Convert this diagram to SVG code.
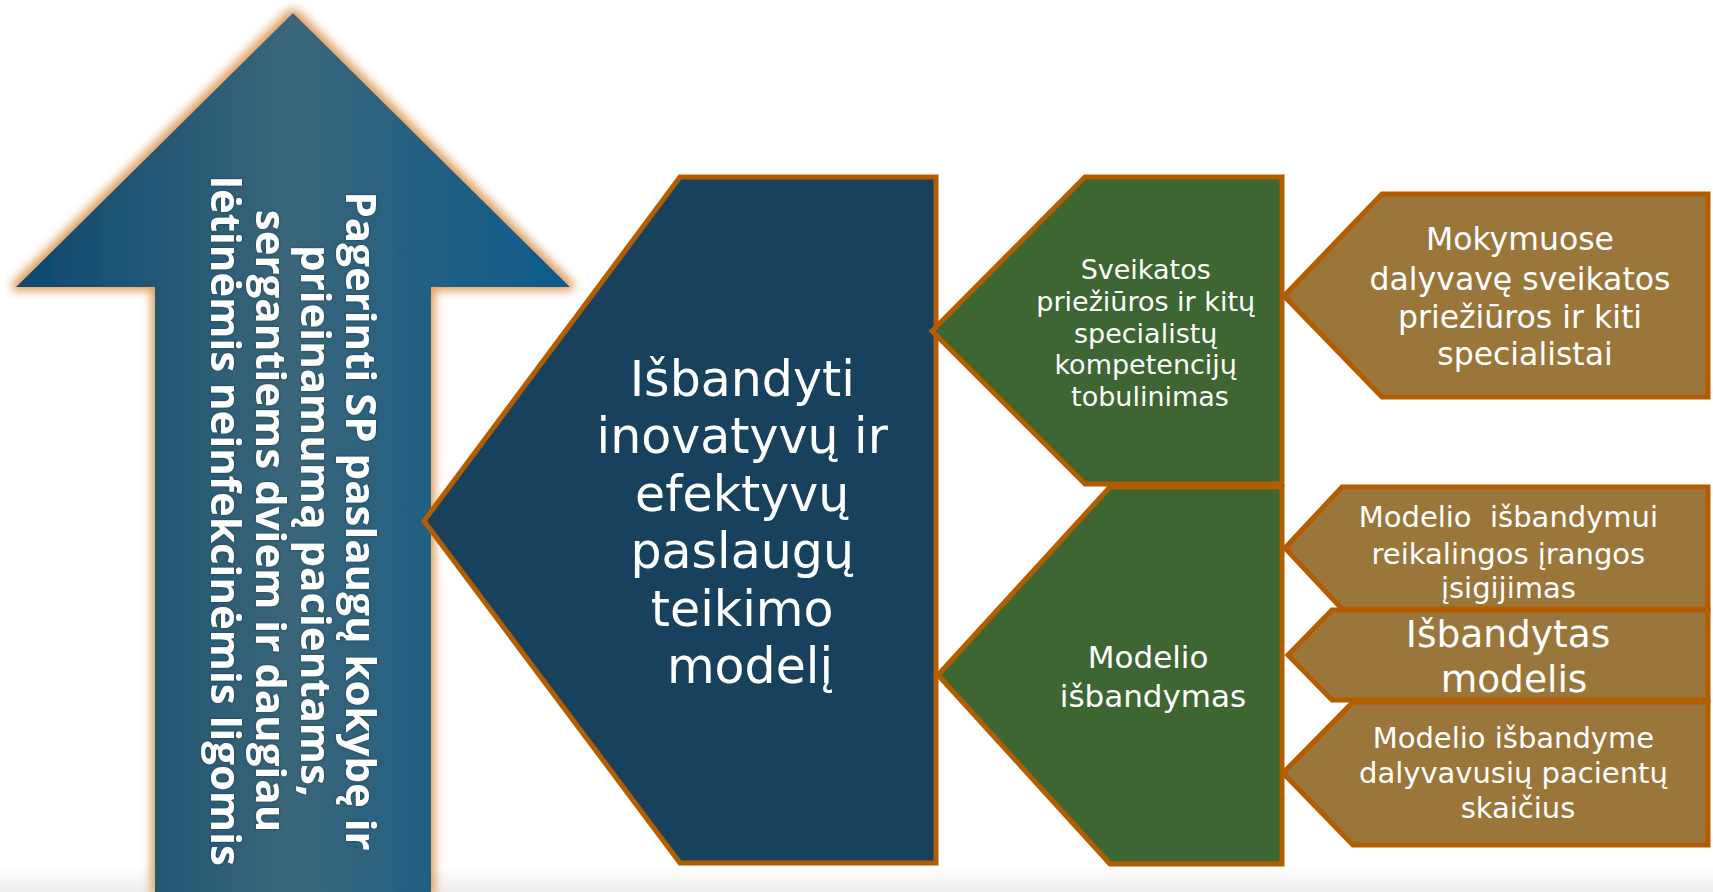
<svg xmlns="http://www.w3.org/2000/svg" width="1713" height="892" viewBox="0 0 1713 892">
<defs>
<linearGradient id="arrowGrad" x1="16" y1="0" x2="570" y2="0" gradientUnits="userSpaceOnUse">
<stop offset="0" stop-color="#0b4870"/>
<stop offset="0.5" stop-color="#3a6679"/>
<stop offset="1" stop-color="#0b5a8c"/>
</linearGradient>
<linearGradient id="bottomGrad" x1="0" y1="0" x2="0" y2="1">
<stop offset="0" stop-color="#ffffff"/>
<stop offset="1" stop-color="#eeeeee"/>
</linearGradient>
<filter id="glow" x="-10%" y="-10%" width="120%" height="120%">
<feMorphology in="SourceAlpha" operator="dilate" radius="4" result="d"/>
<feGaussianBlur in="d" stdDeviation="5" result="b"/>
<feFlood flood-color="#df9f5f"/>
<feComposite in2="b" operator="in" result="g"/>
<feMerge><feMergeNode in="g"/><feMergeNode in="SourceGraphic"/></feMerge>
</filter>
<filter id="tshadow" x="-10%" y="-10%" width="120%" height="120%">
<feDropShadow dx="0" dy="0" stdDeviation="1.5" flood-color="#000000" flood-opacity="0.35"/>
</filter>
</defs>
<style>
.box{stroke:#b35c00;stroke-width:5;stroke-linejoin:miter}
.blue{fill:#17415c}
.green{fill:#3d6632}
.brown{fill:#9b763b}
.t{font-family:"DejaVu Sans","Verdana",sans-serif;fill:#ffffff;text-anchor:middle}
.at{font-family:"Open Sans","Noto Sans",sans-serif;font-weight:700;fill:#ffffff;text-anchor:middle;font-size:42px}
</style>
<rect x="0" y="866" width="1713" height="26" fill="url(#bottomGrad)"/>

<g id="goal-arrow">
<path d="M293,13 L570,287 L431,287 L431,892 L155,892 L155,287 L16,287 Z" fill="url(#arrowGrad)" filter="url(#glow)"/>
<g filter="url(#tshadow)">
<g transform="translate(346,521) rotate(90)">
<text class="at" x="0" y="0">Pagerinti SP paslaugų kokybę ir</text>
<text class="at" x="0" y="45">prieinamumą pacientams,</text>
<text class="at" x="0" y="90">sergantiems dviem ir daugiau</text>
<text class="at" x="0" y="135">lėtinėmis neinfekcinėmis ligomis</text>
</g>
</g>
</g>

<g id="main-model">
<path class="box blue" d="M424,521 L680,177 L936,177 L936,863 L680,863 Z"/>
<text class="t" font-size="49">
<tspan x="750" y="396">Išbandyti</tspan>
<tspan x="750" y="453">inovatyvų ir</tspan>
<tspan x="750" y="511">efektyvų</tspan>
<tspan x="750" y="568">paslaugų</tspan>
<tspan x="750" y="626">teikimo</tspan>
<tspan x="750" y="683">modelį</tspan>
</text>
</g>

<g id="competence">
<path class="box green" d="M932,331 L1085,177 L1282,177 L1282,484 L1085,484 Z"/>
<text class="t" font-size="27">
<tspan x="1150" y="279">Sveikatos</tspan>
<tspan x="1150" y="311">priežiūros ir kitų</tspan>
<tspan x="1150" y="343">specialistų</tspan>
<tspan x="1150" y="374">kompetencijų</tspan>
<tspan x="1150" y="406">tobulinimas</tspan>
</text>
</g>

<g id="model-testing">
<path class="box green" d="M938,675 L1110,487 L1282,487 L1282,864 L1110,864 Z"/>
<text class="t" font-size="31">
<tspan x="1153" y="668">Modelio</tspan>
<tspan x="1153" y="707">išbandymas</tspan>
</text>
</g>

<g id="trained-specialists">
<path class="box brown" d="M1284,296 L1382,194 L1708,194 L1708,397 L1382,397 Z"/>
<text class="t" font-size="31.5">
<tspan x="1525" y="250">Mokymuose</tspan>
<tspan x="1525" y="290">dalyvavę sveikatos</tspan>
<tspan x="1525" y="328">priežiūros ir kiti</tspan>
<tspan x="1525" y="365">specialistai</tspan>
</text>
</g>

<g id="equipment">
<path class="box brown" d="M1285,548 L1342,487 L1708,487 L1708,609 L1342,609 Z"/>
<text class="t" font-size="29" style="white-space:pre">
<tspan x="1513" y="527">Modelio  išbandymui</tspan>
<tspan x="1513" y="564">reikalingos įrangos</tspan>
<tspan x="1513" y="598">įsigijimas</tspan>
</text>
</g>

<g id="tested-model">
<path class="box brown" d="M1288,655 L1332,610 L1708,610 L1708,700 L1332,700 Z"/>
<text class="t" font-size="37.5">
<tspan x="1514" y="647">Išbandytas</tspan>
<tspan x="1514" y="692">modelis</tspan>
</text>
</g>

<g id="patients">
<path class="box brown" d="M1283,773 L1353,702 L1708,702 L1708,845 L1353,845 Z"/>
<text class="t" font-size="29">
<tspan x="1518" y="748">Modelio išbandyme</tspan>
<tspan x="1518" y="783">dalyvavusių pacientų</tspan>
<tspan x="1518" y="818">skaičius</tspan>
</text>
</g>

<g id="connectors"/>
</svg>
